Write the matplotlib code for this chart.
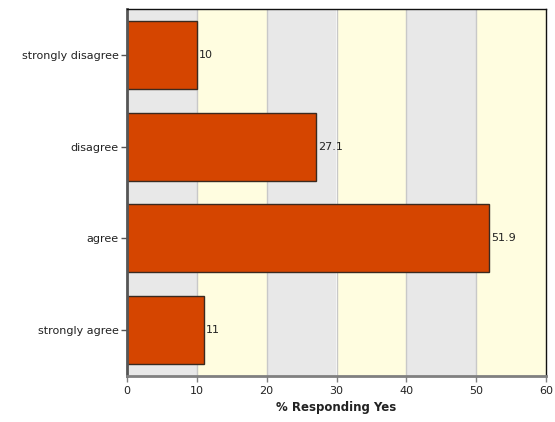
import matplotlib
matplotlib.use("Agg")
import matplotlib.pyplot as plt

categories = ["strongly disagree", "disagree", "agree", "strongly agree"]
values = [10, 27.1, 51.9, 11]
value_labels = ["10", "27.1", "51.9", "11"]
xticks = [0, 10, 20, 30, 40, 50, 60]
xlabel = "% Responding Yes"

plt.rcParams['font.family'] = ['DejaVu Sans']
fig = plt.figure(figsize=(5.55, 4.22), dpi=100)
ax = fig.add_axes([127/555, 1-376/422, (546-127)/555, (376-9)/422])

FS = 8

# alternating background bands
for i in range(len(xticks)-1):
    color = "#E8E8E8" if i % 2 == 0 else "#FFFDE0"
    ax.axvspan(xticks[i], xticks[i+1], color=color, zorder=0, lw=0)
for x in xticks[1:-1]:
    ax.axvline(x, color="#C8C8C8", lw=1, zorder=1)

ypos = list(range(len(categories)))
ax.barh(ypos, values, height=0.74, color="#D54500", edgecolor="#3a2a20", lw=1, zorder=2)
for y, v, lab in zip(ypos, values, value_labels):
    ax.text(v + 0.25, y, lab, va="center", ha="left", fontsize=FS, color="#222222", zorder=3)

ax.set_xlim(0, 60)
ax.set_ylim(len(categories)-0.5, -0.5)
ax.set_yticks(ypos)
ax.set_yticklabels(categories, fontsize=FS, color="#222222")
ax.set_xticks(xticks)
ax.set_xticklabels([str(t) for t in xticks], fontsize=FS, color="#222222")
ax.set_xlabel(xlabel, fontsize=8.5, fontweight="bold", color="#222222", labelpad=4)

ax.tick_params(axis="y", length=4, width=1, color="#555555", pad=2)
ax.tick_params(axis="x", length=4, width=1, color="#808080", pad=3)
ax.spines["left"].set_color("#555555")
ax.spines["left"].set_linewidth(2)
ax.spines["bottom"].set_color("#808080")
ax.spines["bottom"].set_linewidth(2)
ax.spines["top"].set_color("#111111")
ax.spines["top"].set_linewidth(1)
ax.spines["right"].set_color("#111111")
ax.spines["right"].set_linewidth(1)

fig.savefig("out.png", dpi=100)
